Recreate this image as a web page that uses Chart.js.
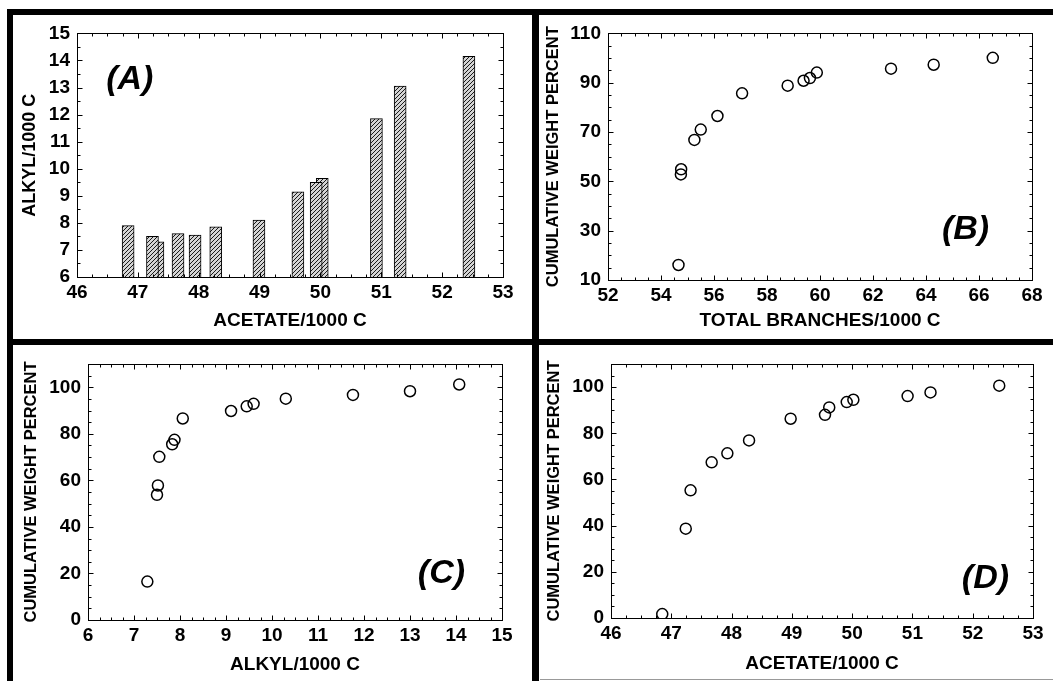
<!DOCTYPE html>
<html>
<head>
<meta charset="utf-8">
<title>Cumulative weight percent vs. branching</title>
<script src="https://cdn.jsdelivr.net/npm/chart.js@4.4.1/dist/chart.umd.min.js"></script>
<style>
  html, body { margin: 0; padding: 0; background: #fff; }
  body { width: 1053px; height: 681px; position: relative; overflow: hidden; }
  canvas { position: absolute; }
  .rule { position: absolute; background: #000; }
</style>
</head>
<body>
<div class="rule" style="left:7px;top:9px;width:1046px;height:6px"></div>
<div class="rule" style="left:7px;top:9px;width:6px;height:672px"></div>
<div class="rule" style="left:532px;top:9px;width:7px;height:672px"></div>
<div class="rule" style="left:7px;top:339px;width:1046px;height:6px"></div>
<div class="rule" style="left:540px;top:679px;width:513px;height:1px;background:#999"></div>

<canvas id="chartA" width="515" height="322" style="left:15px;top:15px"></canvas>
<canvas id="chartB" width="513" height="322" style="left:540px;top:15px"></canvas>
<canvas id="chartC" width="515" height="336" style="left:15px;top:345px"></canvas>
<canvas id="chartD" width="513" height="336" style="left:540px;top:345px"></canvas>

<script>
const FONT = "'Liberation Sans', Arial, Helvetica, sans-serif";

// (A) alkyl vs acetate, one bar per fraction
const barAcetate = [46.84, 47.24, 47.33, 47.66, 47.94, 48.28, 48.99, 49.63, 49.93, 50.03, 50.92, 51.31, 52.44];
const barAlkyl = [7.9, 7.5, 7.3, 7.6, 7.55, 7.85, 8.1, 9.15, 9.5, 9.65, 11.85, 13.05, 14.15];

// (B) cumulative weight % vs total branches
const branchesB = [54.66, 54.75, 54.76, 55.26, 55.5, 56.13, 57.06, 58.78, 59.38, 59.62, 59.88, 62.68, 64.29, 66.52];
const cumB = [16.1, 52.8, 54.9, 66.8, 71.0, 76.5, 85.7, 88.8, 90.8, 91.9, 94.1, 95.7, 97.3, 100.1];

// (C) cumulative weight % vs alkyl
const alkylC = [7.29, 7.50, 7.52, 7.55, 7.83, 7.88, 8.06, 9.11, 9.45, 9.60, 10.30, 11.76, 13.0, 14.07];
const cumC = [16.5, 53.8, 57.8, 70.1, 75.5, 77.4, 86.6, 89.8, 91.8, 92.9, 95.1, 96.7, 98.3, 101.2];

// (D) cumulative weight % vs acetate
const acetateD = [46.85, 47.24, 47.32, 47.67, 47.93, 48.29, 48.98, 49.55, 49.62, 49.91, 50.02, 50.92, 51.30, 52.44];
const cumD = [1.7, 38.7, 55.3, 67.4, 71.3, 76.9, 86.3, 88.0, 91.2, 93.5, 94.5, 96.1, 97.7, 100.6];

// tick labels
const acetateTicks = [46, 47, 48, 49, 50, 51, 52, 53];
const alkylTicksA = [6, 7, 8, 9, 10, 11, 12, 13, 14, 15];
const branchTicks = [52, 54, 56, 58, 60, 62, 64, 66, 68];
const cumTicksB = [10, 30, 50, 70, 90, 110];
const alkylTicksC = [6, 7, 8, 9, 10, 11, 12, 13, 14, 15];
const cumTicks = [0, 20, 40, 60, 80, 100];

const hatch = (() => {
  const c = document.createElement("canvas");
  c.width = 4;
  c.height = 4;
  const g = c.getContext("2d");
  g.fillStyle = "#d4d4d4";
  g.fillRect(0, 0, 4, 4);
  g.strokeStyle = "#1a1a1a";
  g.lineWidth = 1;
  g.beginPath();
  g.moveTo(0, 4); g.lineTo(4, 0);
  g.moveTo(-1, 1); g.lineTo(1, -1);
  g.moveTo(3, 5); g.lineTo(5, 3);
  g.stroke();
  return g.createPattern(c, "repeat");
})();

// major + minor tick positions along a scale
function marks(scale, ticks, sub) {
  const step = (ticks[1] - ticks[0]) / sub;
  const out = [];
  for (let v = ticks[0]; v <= scale.max + 1e-9; v += step) {
    const major = ticks.some(t => Math.abs(t - v) < 1e-6);
    out.push([v, major ? 5 : 3]);
  }
  return out;
}

// box round the plot with inward ticks, plus the panel letter
const framePlugin = {
  id: "frame",
  afterDraw(chart, args, opts) {
    const {ctx, chartArea: a} = chart;
    const {x, y} = chart.scales;
    ctx.save();
    ctx.strokeStyle = "#000";
    ctx.lineWidth = 1;
    const l = Math.round(a.left) + 0.5, r = Math.round(a.right) + 0.5;
    const t = Math.round(a.top) + 0.5, b = Math.round(a.bottom) + 0.5;
    ctx.strokeRect(l, t, r - l, b - t);
    ctx.beginPath();
    marks(x, opts.xTicks, opts.xSub).forEach(([v, len]) => {
      const px = Math.round(x.getPixelForValue(v)) + 0.5;
      ctx.moveTo(px, b); ctx.lineTo(px, b - len);
      ctx.moveTo(px, t); ctx.lineTo(px, t + len);
    });
    marks(y, opts.yTicks, opts.ySub).forEach(([v, len]) => {
      const py = Math.round(y.getPixelForValue(v)) + 0.5;
      ctx.moveTo(l, py); ctx.lineTo(l + len, py);
      ctx.moveTo(r, py); ctx.lineTo(r - len, py);
    });
    ctx.stroke();
    ctx.font = `italic bold 34px ${FONT}`;
    ctx.fillStyle = "#000";
    ctx.textBaseline = "middle";
    ctx.fillText(opts.label, x.getPixelForValue(opts.labelAt[0]), y.getPixelForValue(opts.labelAt[1]));
    ctx.restore();
  },
};

function axis(dir, a, fitSize) {
  const isX = dir === "x";
  return {
    type: "linear",
    position: isX ? "bottom" : "left",
    min: a.min,
    max: a.max,
    offset: false,
    grid: {display: false, drawTicks: false},
    border: {display: false},
    afterBuildTicks: scale => { scale.ticks = a.ticks.map(value => ({value})); },
    afterFit: scale => {
      if (isX) scale.height = fitSize;
      else scale.width = fitSize;
    },
    ticks: {
      color: "#000",
      padding: isX ? 4 : 7,
      autoSkip: false,
      maxRotation: 0,
      font: {family: FONT, size: 19, weight: "bold"},
      callback: v => String(v),
    },
    title: {
      display: true,
      text: a.title,
      color: "#000",
      font: {family: FONT, size: a.size, weight: "bold", lineHeight: 1.2},
      padding: isX ? {top: 0, bottom: a.pad} : {top: a.pad, bottom: 0},
    },
  };
}

function makeChart(id, type, datasets, xAxis, yAxis, box, frame) {
  return new Chart(document.getElementById(id), {
    type,
    data: {datasets},
    options: {
      responsive: false,
      animation: false,
      devicePixelRatio: 1,
      layout: {padding: {left: 0, top: box.top, right: box.right, bottom: 0}},
      plugins: {legend: {display: false}, tooltip: {enabled: false}, frame},
      scales: {
        x: axis("x", xAxis, box.xHeight),
        y: axis("y", yAxis, box.yWidth),
      },
    },
    plugins: [framePlugin],
  });
}

function circles(xs, ys) {
  return [{
    data: xs.map((x, i) => ({x, y: ys[i]})),
    pointStyle: "circle",
    pointRadius: 5.5,
    pointBorderWidth: 1.5,
    pointBackgroundColor: "rgba(0,0,0,0)",
    pointBorderColor: "#000",
    showLine: false,
  }];
}

// bars listed right to left so the left bar of an overlapping pair sits in front
makeChart("chartA", "bar", [{
  data: barAcetate.map((x, i) => ({x, y: barAlkyl[i]})).reverse(),
  backgroundColor: hatch,
  borderColor: "#000",
  borderWidth: 1,
  barThickness: 12,
}],
  {min: 46, max: 53, ticks: acetateTicks, title: "ACETATE/1000 C", size: 19, pad: 4.6},
  {min: 6, max: 15, ticks: alkylTicksA, title: "ALKYL/1000 C", size: 18, pad: 4.2},
  {top: 18, right: 27, xHeight: 60, yWidth: 62},
  {xTicks: acetateTicks, xSub: 4, yTicks: alkylTicksA, ySub: 2, label: "(A)", labelAt: [46.48, 13.3]});

makeChart("chartB", "scatter", circles(branchesB, cumB),
  {min: 52, max: 68, ticks: branchTicks, title: "TOTAL BRANCHES/1000 C", size: 19, pad: 4.6},
  {min: 10, max: 110, ticks: cumTicksB, title: "CUMULATIVE WEIGHT PERCENT", size: 16.5, pad: 3.1},
  {top: 18, right: 21, xHeight: 57, yWidth: 68},
  {xTicks: branchTicks, xSub: 4, yTicks: cumTicksB, ySub: 4, label: "(B)", labelAt: [64.6, 30.6]});

makeChart("chartC", "scatter", circles(alkylC, cumC),
  {min: 6, max: 15, ticks: alkylTicksC, title: "ALKYL/1000 C", size: 19, pad: 4.6},
  {min: 0, max: 110, ticks: cumTicks, title: "CUMULATIVE WEIGHT PERCENT", size: 16.5, pad: 6.1},
  {top: 19, right: 28, xHeight: 61, yWidth: 73},
  {xTicks: alkylTicksC, xSub: 4, yTicks: cumTicks, ySub: 4, label: "(C)", labelAt: [13.17, 19.8]});

makeChart("chartD", "scatter", circles(acetateD, cumD),
  {min: 46, max: 53, ticks: acetateTicks, title: "ACETATE/1000 C", size: 19, pad: 6.1},
  {min: 0, max: 110, ticks: cumTicks, title: "CUMULATIVE WEIGHT PERCENT", size: 16.5, pad: 4.1},
  {top: 19, right: 20, xHeight: 63, yWidth: 71},
  {xTicks: acetateTicks, xSub: 4, yTicks: cumTicks, ySub: 4, label: "(D)", labelAt: [51.82, 17.1]});
</script>
</body>
</html>
